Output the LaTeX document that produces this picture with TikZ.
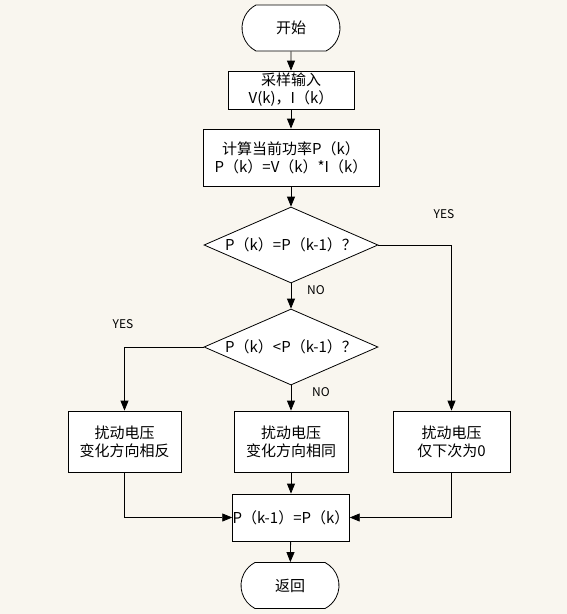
\documentclass[tikz,border=0pt]{standalone}
\usepackage{fontspec}
\setmainfont{Noto Sans CJK SC}
\usetikzlibrary{shapes.geometric,shapes.misc,arrows.meta}
\definecolor{paper}{RGB}{249,246,239}
\tikzset{
	box/.style = {draw, fill=white, align=center, inner sep=0pt, font=\fontsize{15}{18}\selectfont},
	term/.style = {box, rounded rectangle, rounded rectangle arc length=125, minimum width=98pt, minimum height=46pt},
	proc/.style = {box, rectangle},
	decide/.style = {draw, fill=white, diamond, inner sep=0pt, minimum width=174pt, minimum height=76pt},
	flow/.style = {-{Triangle[length=10pt,width=8pt]}},
	tag/.style = {font=\fontsize{12}{14}\selectfont}
}

\begin{document}
\begin{tikzpicture}[x=1pt, y=-1pt, line width=0.8pt]
	\fill[paper] (0,0) rectangle (567,614);
	\useasboundingbox (0,0) rectangle (567,614);
	% main column
	\node[term] (start) at (291,28) {开始};
	\node[proc, minimum width=126pt, minimum height=38pt] (input) at (291,90) {采样输入\\V(k)，I（k）};
	\node[proc, minimum width=176pt, minimum height=57pt] (power) at (291,157.5) {计算当前功率P（k）\\P（k）=V（k）*I（k）};
	\node[decide, label={[font=\fontsize{15}{18}\selectfont]center:P（k）=P（k-1）？}] (same) at (291,245) {};
	\node[decide, label={[font=\fontsize{15}{18}\selectfont]center:P（k）<P（k-1）？}] (less) at (291,347) {};
	% three branches
	\node[proc, minimum width=113pt, minimum height=61pt] (back) at (124.5,441.5) {扰动电压\\变化方向相反};
	\node[proc, minimum width=114pt, minimum height=61pt] (keep) at (291,441.5) {扰动电压\\变化方向相同};
	\node[proc, minimum width=117pt, minimum height=61pt] (zero) at (451.5,441.5) {扰动电压\\仅下次为0};
	\node[proc, minimum width=114pt, minimum height=47pt] (store) at (291,517.5) {P（k-1）=P（k）};
	\node[term] (ret) at (290,585.5) {返回};
	% labels
	\node[tag] (yesA) at (444,214) {YES};
	\node[tag] (noA) at (316,290) {NO};
	\node[tag] (yesB) at (123,324) {YES};
	\node[tag] (noB) at (321,392) {NO};
	% connectors
	\draw[flow] (start) -- (input);
	\draw[flow] (input) -- (power);
	\draw[flow] (power) -- (same);
	\draw[flow] (same) -- (less);
	\draw[flow] (less) -- (keep);
	\draw[flow] (same.east) -| (zero.north);
	\draw[flow] (less.west) -| (back.north);
	\draw[flow] (keep) -- (store);
	\draw[flow] (back.south) |- (store.west);
	\draw[flow] (zero.south) |- (store.east);
	\draw[flow] (store) -- (ret);
\end{tikzpicture}
\end{document}
